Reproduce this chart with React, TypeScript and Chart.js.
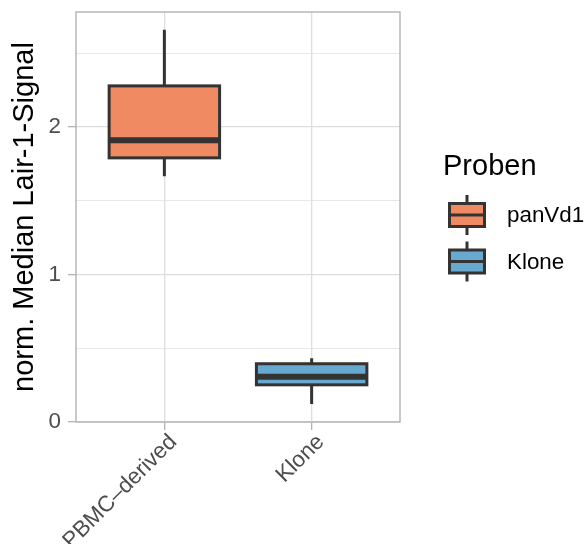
import React, { useEffect, useRef } from "react";
import { Chart, registerables } from "chart.js";

Chart.register(...registerables);

const categories = ["PBMC–derived", "Klone"];
const groups = ["panVd1", "Klone"];
const whiskerLow = [1.667, 0.122];
const q1 = [1.791, 0.252];
const median = [1.91, 0.306];
const q3 = [2.279, 0.395];
const whiskerHigh = [2.659, 0.432];
const fills = ["#EF8A62", "#67A9CF"];
const yMajorTicks = [0, 1, 2];
const yMinorTicks = [0.5, 1.5, 2.5];

const FONT = "'Liberation Sans', Arial, Helvetica, sans-serif";
const STROKE = "#333333";

const boxPlugin = {
  id: "boxDecor",
  afterDatasetsDraw(chart: any) {
    const ctx = chart.ctx;
    const y = chart.scales.y;
    const meta = chart.getDatasetMeta(0);
    ctx.save();
    meta.data.forEach((bar: any, i: number) => {
      const cx = bar.x;
      const half = bar.width / 2;
      const top = y.getPixelForValue(q3[i]);
      const bottom = y.getPixelForValue(q1[i]);
      ctx.strokeStyle = STROKE;
      ctx.lineCap = "butt";
      ctx.lineWidth = 3;
      ctx.beginPath();
      ctx.moveTo(cx, top);
      ctx.lineTo(cx, y.getPixelForValue(whiskerHigh[i]));
      ctx.moveTo(cx, bottom);
      ctx.lineTo(cx, y.getPixelForValue(whiskerLow[i]));
      ctx.stroke();
      ctx.lineWidth = 3;
      ctx.strokeRect(cx - half, top, half * 2, bottom - top);
      ctx.lineWidth = 6;
      const my = y.getPixelForValue(median[i]);
      ctx.beginPath();
      ctx.moveTo(cx - half, my);
      ctx.lineTo(cx + half, my);
      ctx.stroke();
    });
    const a = chart.chartArea;
    ctx.strokeStyle = "#B3B3B3";
    ctx.lineWidth = 1.4;
    ctx.strokeRect(a.left, a.top, a.right - a.left, a.bottom - a.top);
    ctx.restore();
  },
  afterDraw(chart: any) {
    const ctx = chart.ctx;
    const a = chart.chartArea;
    ctx.save();
    ctx.fillStyle = "#000000";
    ctx.font = `29px ${FONT}`;
    ctx.textBaseline = "alphabetic";
    ctx.textAlign = "left";
    ctx.fillText("Proben", a.right + 43, 175);
    groups.forEach((g, i) => {
      const cy = 215 + i * 46.5;
      const kx = a.right + 67;
      const hw = 17.5;
      ctx.strokeStyle = STROKE;
      ctx.lineWidth = 3;
      ctx.beginPath();
      ctx.moveTo(kx, cy - 20);
      ctx.lineTo(kx, cy + 20);
      ctx.stroke();
      ctx.fillStyle = fills[i];
      ctx.fillRect(kx - hw, cy - 11.5, hw * 2, 23);
      ctx.strokeRect(kx - hw, cy - 11.5, hw * 2, 23);
      ctx.beginPath();
      ctx.moveTo(kx - hw, cy);
      ctx.lineTo(kx + hw, cy);
      ctx.stroke();
      ctx.fillStyle = "#000000";
      ctx.font = `22.4px ${FONT}`;
      ctx.textBaseline = "middle";
      ctx.fillText(g, a.right + 107, cy + 1);
    });
    ctx.restore();
  },
};

export default function App() {
  const ref = useRef<HTMLCanvasElement>(null);
  useEffect(() => {
    if (!ref.current) return;
    const chart = new Chart(ref.current, {
      type: "bar",
      data: {
        datasets: [
          {
            data: categories.map((c, i) => ({ x: i + 1, y: [q1[i], q3[i]] })) as any,
            backgroundColor: fills,
            borderWidth: 0,
            barPercentage: 0.75,
            categoryPercentage: 1,
          },
        ],
      },
      options: {
        responsive: false,
        animation: false,
        events: [],
        layout: { padding: { left: 0, top: 12, right: 186, bottom: 0 } },
        plugins: { legend: { display: false }, tooltip: { enabled: false } },
        scales: {
          x: {
            type: "linear",
            min: 0.4,
            max: 2.6,
            offset: false,
            afterBuildTicks: (s: any) => {
              s.ticks = categories.map((_, i) => ({ value: i + 1 }));
            },
            afterFit: (s: any) => {
              s.height = 122;
              s.paddingLeft = 0;
              s.paddingRight = 0;
            },
            ticks: {
              autoSkip: false,
              minRotation: 45,
              maxRotation: 45,
              padding: -1,
              labelOffset: 9,
              color: "#4D4D4D",
              font: { family: FONT, size: 22.4 },
              callback: (v: any) => categories[Math.round(v) - 1] ?? "",
            },
            grid: {
              offset: false,
              color: "#DEDEDE",
              lineWidth: 1.3,
              tickLength: 8,
              tickColor: "#B3B3B3",
            },
            border: { display: false },
          },
          y: {
            min: 0,
            max: 2.78,
            afterBuildTicks: (s: any) => {
              s.ticks = [...yMajorTicks, ...yMinorTicks]
                .sort((p, q) => p - q)
                .map((v) => ({ value: v }));
            },
            afterFit: (s: any) => {
              s.width = 76;
              s.paddingTop = 0;
              s.paddingBottom = 0;
            },
            ticks: {
              padding: 7,
              color: "#4D4D4D",
              font: { family: FONT, size: 22.4 },
              callback: (v: any) => (yMajorTicks.includes(v) ? String(v) : ""),
            },
            grid: {
              color: "#DEDEDE",
              lineWidth: (c: any) => (yMajorTicks.includes(c.tick?.value) ? 1.3 : 0.7),
              tickLength: 8,
              tickColor: (c: any) =>
                yMajorTicks.includes(c.tick?.value) ? "#B3B3B3" : "rgba(0,0,0,0)",
            },
            border: { display: false },
            title: {
              display: true,
              text: "norm. Median Lair-1-Signal",
              color: "#000000",
              font: { family: FONT, size: 29 },
              padding: { top: 8, bottom: 0 },
            },
          },
        },
      },
      plugins: [boxPlugin],
    });
    return () => chart.destroy();
  }, []);
  return (
    <div style={{ position: "absolute", left: 0, top: 0, width: 586, height: 544, background: "#fff" }}>
      <canvas ref={ref} width={586} height={544} />
    </div>
  );
}
